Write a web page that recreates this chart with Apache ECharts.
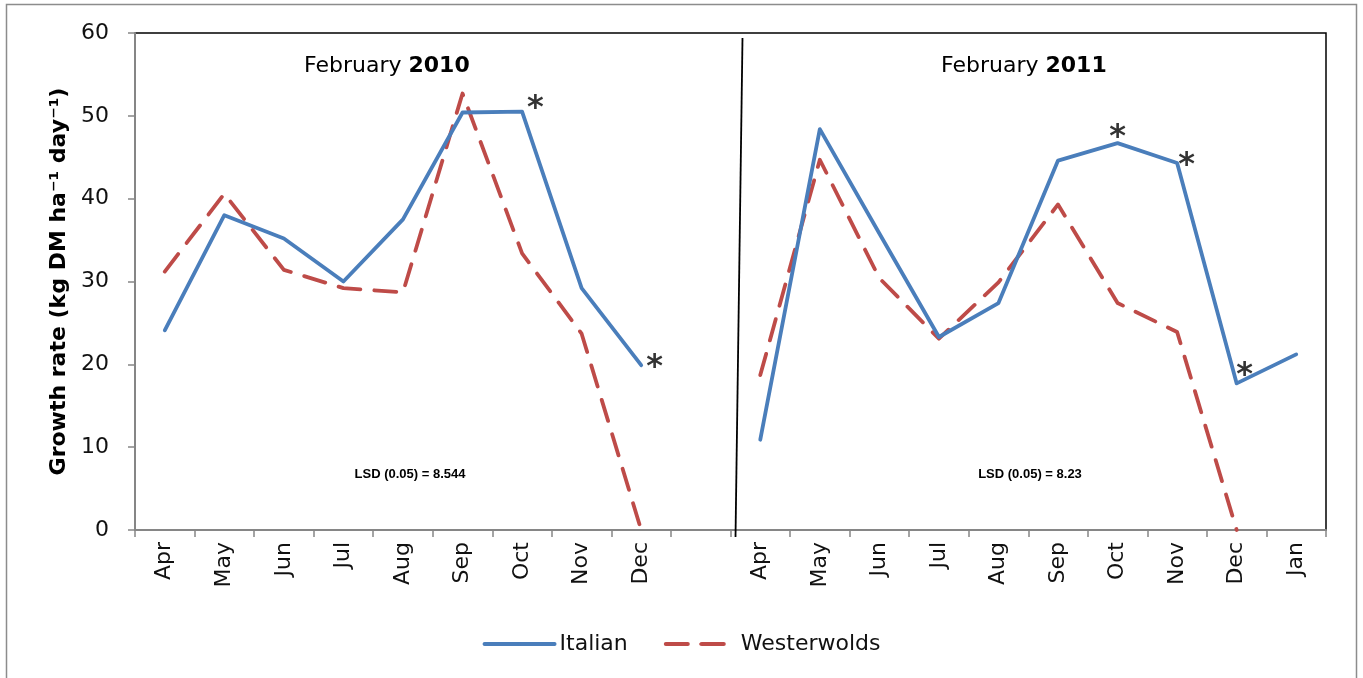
<!DOCTYPE html>
<html>
<head>
<meta charset="utf-8">
<script src="https://cdn.jsdelivr.net/npm/echarts@6/dist/echarts.min.js"></script>
<style>
  html, body { margin: 0; padding: 0; background: #ffffff; }
  #chart { width: 1363px; height: 678px; }
</style>
</head>
<body>
<div id="chart"></div>
<script>
// Months of the two growing seasons, separated by one empty slot
const months = ['Apr', 'May', 'Jun', 'Jul', 'Aug', 'Sep', 'Oct', 'Nov', 'Dec', '',
                'Apr', 'May', 'Jun', 'Jul', 'Aug', 'Sep', 'Oct', 'Nov', 'Dec', 'Jan'];

// Growth rate, kg DM ha-1 day-1
const italian = [24.1, 38.0, 35.2, 30.0, 37.5, 50.4, 50.5, 29.2, 19.9, null,
                 10.9, 48.4, 35.8, 23.3, 27.4, 44.6, 46.7, 44.3, 17.7, 21.2];
const westerwolds = [31.2, 40.6, 31.4, 29.2, 28.7, 52.7, 33.4, 23.7, 0, null,
                     18.7, 44.7, 30.4, 23.1, 29.9, 39.3, 27.4, 23.9, 0, null];

// Months where Italian differs significantly (marked with an asterisk)
const italianSignificant = [6, 8, 16, 17, 18];

const seasonTitles = ['2010', '2011'];
const lsdLabels = ['LSD (0.05) = 8.544', 'LSD (0.05) = 8.23'];
const yTicks = [0, 10, 20, 30, 40, 50, 60];

const FONT = 'DejaVu Sans';
const BLUE = '#4A7EBB';
const RED = '#BE4B48';
const AXIS_GREY = '#868686';

// where each asterisk sits relative to its point
const starPlacement = {
  6: { position: 'right', offset: [0, -3] },
  8: { position: 'right', offset: [0, 3] },
  16: { position: 'top', offset: [0, 16] },
  17: { position: 'right', offset: [-4, 3] },
  18: { position: 'top', offset: [8, 13] }
};

const starData = italianSignificant.map(i => ({
  value: [i, italian[i]],
  label: {
    show: true,
    formatter: '*',
    position: starPlacement[i].position,
    offset: starPlacement[i].offset,
    fontSize: 32,
    fontWeight: 'bold',
    fontFamily: FONT,
    color: '#000'
  }
}));

const chart = echarts.init(document.getElementById('chart'));

const option = {
  animation: false,
  backgroundColor: '#ffffff',
  grid: {
    left: 135, right: 37, top: 33, bottom: 148,
    show: true,
    borderColor: '#000000',
    borderWidth: 1.5
  },
  legend: {
    bottom: 18,
    left: 'center',
    itemWidth: 70,
    itemHeight: 4,
    itemGap: 36,
    lineStyle: { width: 4 },
    textStyle: { fontFamily: FONT, fontSize: 22, color: '#111' },
    data: ['Italian', 'Westerwolds']
  },
  xAxis: {
    type: 'category',
    data: months,
    boundaryGap: true,
    axisLine: { lineStyle: { color: AXIS_GREY, width: 2 } },
    axisTick: { show: true, length: 7, interval: 0, lineStyle: { color: AXIS_GREY, width: 1.5 } },
    axisLabel: {
      interval: 0,
      rotate: 90,
      margin: 12,
      fontFamily: FONT,
      fontSize: 22,
      color: '#111'
    },
    splitLine: { show: false }
  },
  yAxis: {
    type: 'value',
    min: yTicks[0],
    max: yTicks[yTicks.length - 1],
    interval: 10,
    name: 'Growth rate (kg DM ha\u207B\u00B9 day\u207B\u00B9)',
    nameLocation: 'middle',
    nameGap: 64,
    nameTextStyle: { fontFamily: FONT, fontWeight: 'bold', fontSize: 22, color: '#000' },
    axisLine: { show: true, lineStyle: { color: AXIS_GREY, width: 2 } },
    axisTick: { show: true, length: 7, lineStyle: { color: AXIS_GREY, width: 1.5 } },
    axisLabel: { margin: 26, fontFamily: FONT, fontSize: 22, color: '#111' },
    splitLine: { show: false }
  },
  series: [
    {
      name: 'Italian',
      type: 'line',
      data: italian,
      symbol: 'none',
      connectNulls: false,
      lineStyle: { color: BLUE, width: 3.8, cap: 'round', join: 'round' },
      itemStyle: { color: BLUE },
      z: 3
    },
    {
      name: 'Westerwolds',
      type: 'line',
      data: westerwolds,
      symbol: 'none',
      connectNulls: false,
      lineStyle: { color: RED, width: 3.8, type: [22, 14], cap: 'round', join: 'round' },
      itemStyle: { color: RED },
      z: 2
    },
    {
      name: 'significance',
      type: 'scatter',
      data: starData,
      symbolSize: 0,
      silent: true,
      z: 4
    }
  ]
};

chart.setOption(option);

// Season headings, LSD notes, the season divider and the outer frame
const yTop = chart.convertToPixel({ yAxisIndex: 0 }, 60);
const yZero = chart.convertToPixel({ yAxisIndex: 0 }, 0);
const x9 = chart.convertToPixel({ xAxisIndex: 0 }, 9);
const x10 = chart.convertToPixel({ xAxisIndex: 0 }, 10);
const divX = (x9 + x10) / 2;

const headingRich = {
  n: { fontFamily: FONT, fontSize: 22, fill: '#000' },
  b: { fontFamily: FONT, fontSize: 22, fontWeight: 'bold', fill: '#000' }
};

chart.setOption({
  graphic: [
    {
      type: 'rect',
      silent: true,
      shape: { x: 6.5, y: 4.5, width: 1350, height: 700 },
      style: { fill: null, stroke: '#8c8c8c', lineWidth: 1.5 },
      z: 0
    },
    {
      type: 'line',
      silent: true,
      shape: { x1: divX + 12, y1: yTop + 5, x2: divX + 5, y2: yZero + 7 },
      style: { stroke: '#000000', lineWidth: 1.8 },
      z: 10
    },
    {
      type: 'text', silent: true, left: 395 - 91, top: 55,
      style: { text: '{n|February }{b|' + seasonTitles[0] + '}', rich: headingRich }
    },
    {
      type: 'text', silent: true, left: 1032 - 91, top: 55,
      style: { text: '{n|February }{b|' + seasonTitles[1] + '}', rich: headingRich }
    },
    {
      type: 'text', silent: true, x: 410, y: 474,
      style: {
        text: lsdLabels[0], fontFamily: 'Liberation Sans', fontWeight: 'bold', fontSize: 13,
        fill: '#000', align: 'center', verticalAlign: 'middle'
      }
    },
    {
      type: 'text', silent: true, x: 1030, y: 474,
      style: {
        text: lsdLabels[1], fontFamily: 'Liberation Sans', fontWeight: 'bold', fontSize: 13,
        fill: '#000', align: 'center', verticalAlign: 'middle'
      }
    }
  ]
});
</script>
</body>
</html>
